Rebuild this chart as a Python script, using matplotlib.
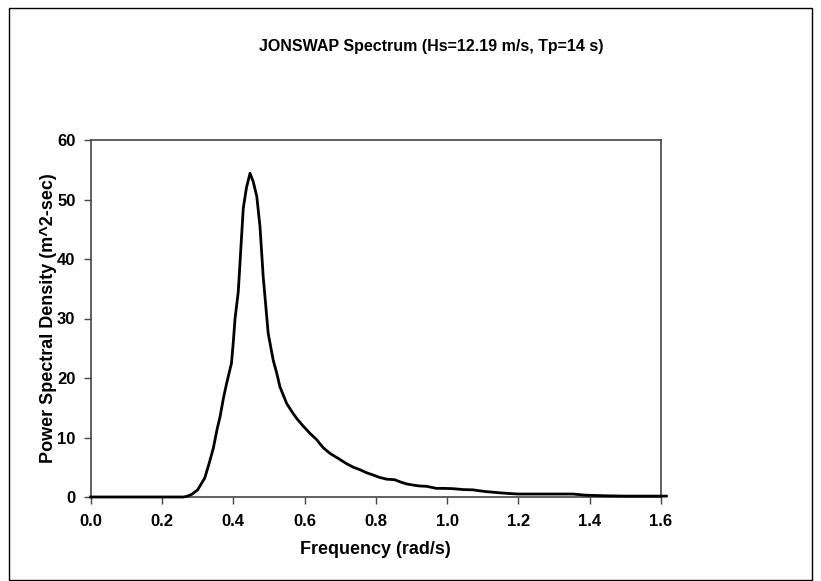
import numpy as np
import matplotlib
matplotlib.use("Agg")
import matplotlib.pyplot as plt
from matplotlib.patches import Rectangle

plt.rcParams['font.family'] = ['Liberation Sans', 'DejaVu Sans']

# spectrum (frequency rad/s, PSD m^2-sec)
freq = [0.0, 0.1, 0.2, 0.26, 0.27, 0.285, 0.30, 0.31, 0.32, 0.333, 0.344, 0.355,
        0.363, 0.372, 0.381, 0.395, 0.400, 0.405, 0.414, 0.423, 0.428, 0.437,
        0.447, 0.456, 0.466, 0.475, 0.484, 0.498, 0.512, 0.522, 0.531, 0.55,
        0.565, 0.578, 0.595, 0.615, 0.633, 0.652, 0.672, 0.694, 0.718, 0.737,
        0.755, 0.773, 0.792, 0.81, 0.83, 0.853, 0.87, 0.886, 0.905, 0.923,
        0.942, 0.97, 0.99, 1.017, 1.045, 1.073, 1.09, 1.11, 1.13, 1.148, 1.17,
        1.2, 1.25, 1.3, 1.353, 1.39, 1.45, 1.5, 1.55, 1.615]
psd = [0, 0, 0, 0, 0.1, 0.5, 1.2, 2.2, 3.2, 5.8, 8.2, 11.5,
       13.5, 16.5, 19, 22.5, 26, 30, 34.5, 43.5, 48.5, 52,
       54.4, 53, 50.5, 45.4, 37, 27.5, 23, 20.8, 18.5, 15.7,
       14.3, 13.2, 12, 10.7, 9.7, 8.3, 7.3, 6.5, 5.6, 5.0,
       4.6, 4.1, 3.7, 3.3, 3.0, 2.9, 2.5, 2.2, 2.0, 1.85,
       1.8, 1.45, 1.45, 1.4, 1.25, 1.2, 1.05, 0.9, 0.8, 0.7, 0.6,
       0.5, 0.5, 0.5, 0.5, 0.3, 0.2, 0.15, 0.15, 0.15]

xticks = [0.0, 0.2, 0.4, 0.6, 0.8, 1.0, 1.2, 1.4, 1.6]
yticks = [0, 10, 20, 30, 40, 50, 60]

fig = plt.figure(figsize=(8.21, 5.81), dpi=100)
ax = fig.add_axes([90.7/821, 1-497/581, (661-90.7)/821, (497-140)/581])

ax.plot(freq, psd, color='black', lw=2, clip_on=False, zorder=5)

ax.set_xlim(0, 1.6)
ax.set_ylim(0, 60)
ax.set_xticks(xticks)
ax.set_xticklabels([f"{t:.1f}" for t in xticks])
ax.set_yticks(yticks)
for s in ax.spines.values():
    s.set_color('#444444')
    s.set_linewidth(1.2)
ax.tick_params(direction='out', length=5, width=1, color='#444444')
ax.tick_params(axis='x', pad=7, labelsize=12)
ax.tick_params(axis='y', pad=6, labelsize=12)
for lbl in ax.get_xticklabels() + ax.get_yticklabels():
    lbl.set_fontweight('bold')

ax.set_xlabel('Frequency (rad/s)', fontsize=13, fontweight='bold')
ax.set_ylabel('Power Spectral Density (m^2-sec)', fontsize=13, fontweight='bold')
ax.xaxis.set_label_coords(0.5, (497-541)/357)
ax.yaxis.set_label_coords((57-90.7)/570, 0.5)

fig.text(431/821, 1-46/581, 'JONSWAP Spectrum (Hs=12.19 m/s, Tp=14 s)',
         ha='center', va='center', fontsize=11.5, fontweight='bold')

# outer chart border
fig.patches.append(Rectangle((9/821, 1/581), (812-9)/821, (573-1)/581,
                             transform=fig.transFigure, fill=False,
                             edgecolor='black', lw=1))

fig.savefig('out.png', dpi=100)
